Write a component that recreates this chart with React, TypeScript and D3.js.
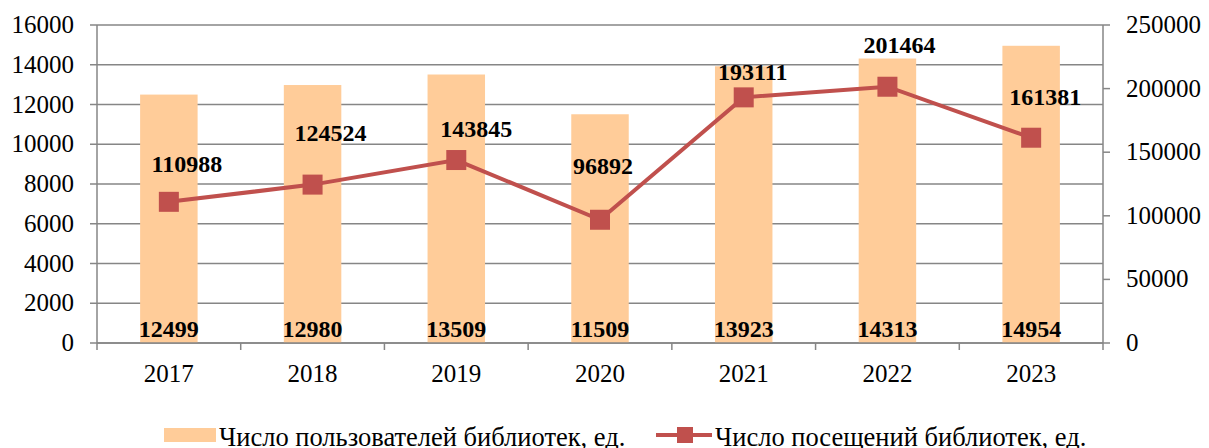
import React from "react";
import * as d3 from "d3";

const years = ["2017", "2018", "2019", "2020", "2021", "2022", "2023"];
const users = [12499, 12980, 13509, 11509, 13923, 14313, 14954];
const visits = [110988, 124524, 143845, 96892, 193111, 201464, 161381];
const leftTicks = [0, 2000, 4000, 6000, 8000, 10000, 12000, 14000, 16000];
const rightTicks = [0, 50000, 100000, 150000, 200000, 250000];
const usersLabel = "Число пользователей библиотек, ед.";
const visitsLabel = "Число посещений библиотек, ед.";

// manual label nudges (dx, dy) relative to each point, as in the source layout
const visitLabelNudge: [number, number][] = [
  [18, -30], [18, -44], [20, -23], [3, -46], [9, -17], [12, -34], [14, -33],
];

const W = 1209;
const H = 448;
const X0 = 97;
const X1 = 1103;
const Y0 = 343;
const Y1 = 25;
const GRID = "#868686";
const BAR = "#FFCC99";
const LINE = "#C0504D";
const FONT = '"Liberation Serif", "Times New Roman", "DejaVu Serif", serif';

export default function App() {
  const x = d3.scaleBand<string>().domain(years).range([X0, X1]).paddingInner(0).paddingOuter(0);
  const yL = d3.scaleLinear().domain([0, 16000]).range([Y0, Y1]);
  const yR = d3.scaleLinear().domain([0, 250000]).range([Y0, Y1]);
  const bw = x.bandwidth() * 0.4;
  const cx = (c: string) => (x(c) as number) + x.bandwidth() / 2;
  const line = d3
    .line<number>()
    .x((_, i) => cx(years[i]))
    .y((d) => yR(d));
  const ms = 20;
  const ts = { fontFamily: FONT };

  return (
    <svg
      width={W}
      height={H}
      style={{ position: "absolute", left: 0, top: 0, background: "#fff", fontFamily: FONT }}
    >
      {/* gridlines */}
      {leftTicks.map((t) => (
        <line key={"g" + t} x1={X0 - 7} x2={X1} y1={yL(t)} y2={yL(t)} stroke={GRID} strokeWidth={1.5} />
      ))}
      {/* bars */}
      {years.map((c, i) => (
        <rect key={"b" + c} x={cx(c) - bw / 2} y={yL(users[i])} width={bw} height={Y0 - yL(users[i])} fill={BAR} />
      ))}
      {/* axes */}
      <line x1={X0} x2={X0} y1={Y1} y2={Y0} stroke={GRID} strokeWidth={1.5} />
      <line x1={X1} x2={X1} y1={Y1} y2={Y0} stroke={GRID} strokeWidth={1.5} />
      <line x1={X0} x2={X1} y1={Y0} y2={Y0} stroke={GRID} strokeWidth={1.5} />
      {rightTicks.map((t) => (
        <line key={"rt" + t} x1={X1} x2={X1 + 7} y1={yR(t)} y2={yR(t)} stroke={GRID} strokeWidth={1.5} />
      ))}
      {[...years.map((c) => x(c) as number), X1].map((bx, i) => (
        <line key={"xt" + i} x1={bx} x2={bx} y1={Y0} y2={Y0 + 7} stroke={GRID} strokeWidth={1.5} />
      ))}
      {/* tick labels */}
      {leftTicks.map((t) => (
        <text key={"lt" + t} x={74} y={yL(t) + 8} textAnchor="end" fontSize={25} fill="#000" style={ts}>
          {t}
        </text>
      ))}
      {rightTicks.map((t) => (
        <text key={"rl" + t} x={1126} y={yR(t) + 8} textAnchor="start" fontSize={25} fill="#000" style={ts}>
          {t}
        </text>
      ))}
      {years.map((c) => (
        <text key={"xl" + c} x={cx(c)} y={382} textAnchor="middle" fontSize={25} fill="#000" style={ts}>
          {c}
        </text>
      ))}
      {/* line */}
      <path d={line(visits) || ""} fill="none" stroke={LINE} strokeWidth={4} />
      {visits.map((v, i) => (
        <rect key={"m" + i} x={cx(years[i]) - ms / 2} y={yR(v) - ms / 2} width={ms} height={ms} fill={LINE} />
      ))}
      {/* bar labels */}
      {years.map((c, i) => (
        <text key={"bl" + c} x={cx(c)} y={337} textAnchor="middle" fontSize={24} fontWeight="bold" fill="#000" style={ts}>
          {users[i]}
        </text>
      ))}
      {/* line labels */}
      {visits.map((v, i) => (
        <text
          key={"vl" + i}
          x={cx(years[i]) + visitLabelNudge[i][0]}
          y={yR(v) + visitLabelNudge[i][1]}
          textAnchor="middle"
          fontSize={24}
          fontWeight="bold"
          fill="#000"
          style={ts}
        >
          {v}
        </text>
      ))}
      {/* legend */}
      <rect x={164} y={428} width={52} height={14} fill={BAR} />
      <text x={219} y={446} fontSize={26.5} fill="#000" style={ts}>
        {usersLabel}
      </text>
      <line x1={656} x2={712} y1={435} y2={435} stroke={LINE} strokeWidth={4} />
      <rect x={677} y={427} width={16} height={16} fill={LINE} />
      <text x={715} y={446} fontSize={26.5} fill="#000" style={ts}>
        {visitsLabel}
      </text>
    </svg>
  );
}
